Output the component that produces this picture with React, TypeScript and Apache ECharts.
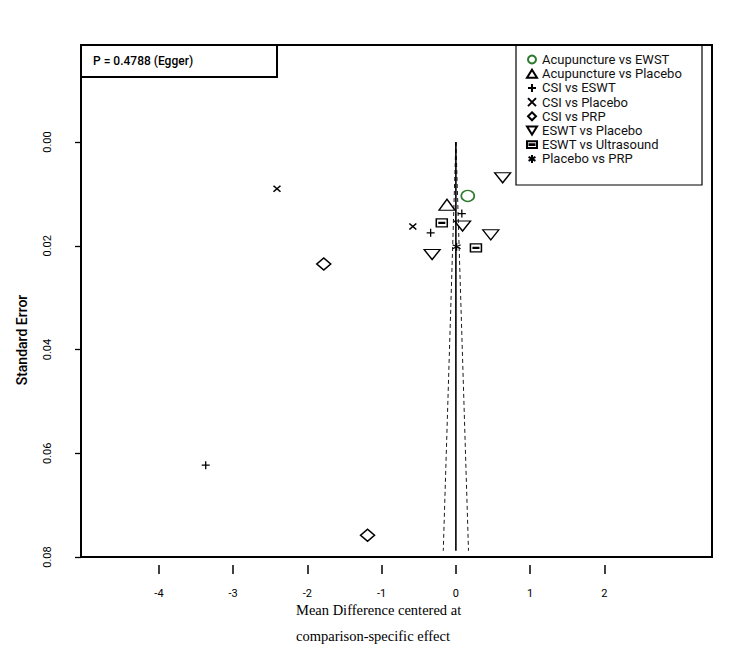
import React, { useEffect, useRef } from "react";
import * as echarts from "echarts";

// ---- data (mean difference centered, standard error) ----
const comparisons = [
  "Acupuncture vs EWST",
  "Acupuncture vs Placebo",
  "CSI vs ESWT",
  "CSI vs Placebo",
  "CSI vs PRP",
  "ESWT vs Placebo",
  "ESWT vs Ultrasound",
  "Placebo vs PRP",
];

const acuEwstMD = [0.16];
const acuEwstSE = [0.0104];
const acuPlaceboMD = [-0.12];
const acuPlaceboSE = [0.0121];
const csiEswtMD = [0.08, -0.34, -3.37];
const csiEswtSE = [0.0138, 0.0175, 0.0623];
const csiPlaceboMD = [-2.41, -0.58];
const csiPlaceboSE = [0.009, 0.0163];
const csiPrpMD = [-1.78, -1.19];
const csiPrpSE = [0.0235, 0.0758];
const eswtPlaceboMD = [0.63, 0.09, 0.47, -0.32];
const eswtPlaceboSE = [0.0069, 0.0162, 0.0179, 0.0217];
const eswtUltraMD = [-0.19, 0.27];
const eswtUltraSE = [0.0156, 0.0204];
const placeboPrpMD = [0.01];
const placeboPrpSE = [0.0202];

const xTicks = [-4, -3, -2, -1, 0, 1, 2];
const yTicks = [0, 0.02, 0.04, 0.06, 0.08];

// funnel reference lines
const funnelSE = [0, 0.0788];
const funnelHalfWidth = [0, 0.17];

const eggerText = "P = 0.4788 (Egger)";

const pairs = (xs: number[], ys: number[]) => xs.map((x, i) => [x, ys[i]]);

const SANS = "Roboto, 'Liberation Sans', Arial, sans-serif";

const hollow = (color = "#000", w = 1.3) => ({
  color: "rgba(0,0,0,0)",
  borderColor: color,
  borderWidth: w,
  opacity: 1,
});

const symbols = [
  { symbol: "circle", size: [13, 11], style: hollow("#2e7a2e", 1.5) },
  { symbol: "path://M5,0 L10,8 L0,8 Z", size: [16, 11], style: hollow() },
  { symbol: "path://M5,0 L5,10 M0,5 L10,5", size: [8, 8], style: hollow("#000", 1.3) },
  { symbol: "path://M0,0 L10,10 M10,0 L0,10", size: [7, 6], style: hollow("#000", 1.4) },
  { symbol: "path://M5,0 L10,5 L5,10 L0,5 Z", size: [14, 12], style: hollow("#000", 1.5) },
  { symbol: "path://M0,0 L10,0 L5,8 Z", size: [16, 10], style: hollow() },
  { symbol: "path://M0,0 L12,0 L12,8 L0,8 Z M3,3.5 L9,3.5 L9,4.5 L3,4.5 Z", size: [11, 8], style: hollow("#000", 1.3) },
  { symbol: "path://M5,0 L5,10 M0.7,2.5 L9.3,7.5 M0.7,7.5 L9.3,2.5", size: [8, 8], style: hollow("#000", 1.3) },
];

const seriesData = [
  pairs(acuEwstMD, acuEwstSE),
  pairs(acuPlaceboMD, acuPlaceboSE),
  pairs(csiEswtMD, csiEswtSE),
  pairs(csiPlaceboMD, csiPlaceboSE),
  pairs(csiPrpMD, csiPrpSE),
  pairs(eswtPlaceboMD, eswtPlaceboSE),
  pairs(eswtUltraMD, eswtUltraSE),
  pairs(placeboPrpMD, placeboPrpSE),
];

export default function App() {
  const ref = useRef<HTMLDivElement>(null);
  useEffect(() => {
    const chart = echarts.init(ref.current!, null, { renderer: "svg" });
    const scatterSeries = comparisons.map((name, i) => ({
      name,
      type: "scatter",
      data: seriesData[i],
      symbol: symbols[i].symbol,
      symbolSize: symbols[i].size,
      itemStyle: symbols[i].style,
      z: 5,
    }));
    const lineSeries = [
      {
        name: "center",
        type: "line",
        data: funnelSE.map((s) => [0, s]),
        symbol: "none",
        lineStyle: { color: "#000", width: 1.6 },
        silent: true,
      },
      {
        name: "lower",
        type: "line",
        data: funnelSE.map((s, i) => [-funnelHalfWidth[i], s]),
        symbol: "none",
        lineStyle: { color: "#000", width: 0.9, type: [4, 3] },
        silent: true,
      },
      {
        name: "upper",
        type: "line",
        data: funnelSE.map((s, i) => [funnelHalfWidth[i], s]),
        symbol: "none",
        lineStyle: { color: "#000", width: 0.9, type: [4, 3] },
        silent: true,
      },
    ];
    chart.setOption({
      animation: false,
      backgroundColor: "#fff",
      grid: {
        left: 81,
        top: 45,
        right: 38,
        bottom: 110,
        show: true,
        borderColor: "#000",
        borderWidth: 2,
        backgroundColor: "#fff",
      },
      xAxis: {
        type: "value",
        min: -5.05,
        max: 3.45,
        position: "bottom",
        offset: 8,
        axisLine: { show: false, onZero: false },
        splitLine: { show: false },
        axisTick: {
          show: true,
          customValues: xTicks,
          length: 9,
          lineStyle: { color: "#000", width: 1.5 },
        },
        axisLabel: {
          customValues: xTicks,
          margin: 23,
          fontSize: 11,
          color: "#000",
          fontFamily: SANS,
        },
      },
      yAxis: {
        type: "value",
        inverse: true,
        min: -0.0187,
        max: 0.08,
        position: "left",
        axisLine: { show: true, onZero: false, lineStyle: { color: "#000", width: 2 } },
        splitLine: { show: false },
        axisTick: {
          show: true,
          customValues: yTicks,
          length: 6,
          lineStyle: { color: "#000", width: 1.3 },
        },
        axisLabel: {
          customValues: yTicks,
          rotate: 90,
          margin: 28,
          fontSize: 11,
          color: "#000",
          fontFamily: SANS,
          formatter: (v: number) => v.toFixed(2),
        },
      },
      legend: {
        data: comparisons,
        orient: "vertical",
        left: 526,
        top: 53,
        itemWidth: 10,
        itemHeight: 8,
        itemGap: 1.2,
        padding: 0,
        textStyle: {
          fontSize: 13,
          lineHeight: 13,
          color: "#111",
          fontFamily: SANS,
          fontWeight: 400,
        },
        selectedMode: false,
      },
      graphic: [
        {
          type: "rect",
          shape: { x: 81, y: 45, width: 196, height: 32 },
          style: { fill: "none", stroke: "#000", lineWidth: 2 },
          z: 100,
        },
        {
          type: "text",
          x: 93,
          y: 61,
          style: {
            text: eggerText,
            fontSize: 12,
            fontWeight: 500,
            fontFamily: SANS,
            fill: "#000",
            textVerticalAlign: "middle",
          },
          z: 100,
        },
        {
          type: "rect",
          shape: { x: 516, y: 45, width: 186, height: 140 },
          style: { fill: "none", stroke: "#000", lineWidth: 1.2 },
          z: 100,
        },
        {
          type: "text",
          x: 22,
          y: 340,
          rotation: Math.PI / 2,
          style: {
            text: "Standard Error",
            fontSize: 14,
            fontWeight: 500,
            fontFamily: SANS,
            fill: "#000",
            textAlign: "center",
            textVerticalAlign: "middle",
          },
          z: 100,
        },
        {
          type: "text",
          x: 296,
          y: 610,
          style: {
            text: "Mean Difference centered at",
            fontSize: 14.5,
            fontFamily: "'Liberation Serif', 'DejaVu Serif', serif",
            fill: "#000",
            textVerticalAlign: "middle",
          },
          z: 100,
        },
        {
          type: "text",
          x: 296,
          y: 636,
          style: {
            text: "comparison-specific effect",
            fontSize: 14.5,
            fontFamily: "'Liberation Serif', 'DejaVu Serif', serif",
            fill: "#000",
            textVerticalAlign: "middle",
          },
          z: 100,
        },
      ],
      series: [...lineSeries, ...scatterSeries],
    });
    return () => chart.dispose();
  }, []);
  return (
    <div
      ref={ref}
      style={{ position: "fixed", left: 0, top: 0, width: 750, height: 667, background: "#fff" }}
    />
  );
}
